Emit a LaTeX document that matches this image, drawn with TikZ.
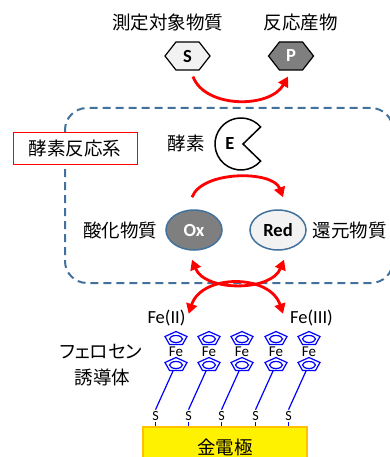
\documentclass[tikz,border=0pt]{standalone}
\usepackage{fontspec}
\setmainfont{Carlito}
\newfontfamily\jp[RawFeature=+palt]{Noto Sans CJK JP}
\usepackage{tikz}
\usetikzlibrary{arrows.meta}
\usetikzlibrary{shapes.geometric,shapes.symbols}

\definecolor{frameblue}{RGB}{65,113,156}
\definecolor{palegray}{RGB}{242,242,242}
\definecolor{midgray}{RGB}{127,127,127}
\definecolor{goldedge}{RGB}{255,192,0}
\definecolor{fcblue}{RGB}{0,0,255}

\tikzset{
  jtext/.style={font=\jp\fontsize{18.5}{20}\selectfont, inner sep=0pt},
  ltext/.style={font=\fontsize{18.5}{20}\selectfont, inner sep=0pt},
  hexa/.style={signal, signal to=east and west, signal pointer angle=104,
    draw=black, line width=1.2pt, minimum width=45pt, minimum height=28pt,
    inner sep=0pt, font=\bfseries\fontsize{18.5}{20}\selectfont},
  redox/.style={ellipse, draw=frameblue, line width=1.5pt, minimum width=56pt,
    minimum height=40pt, inner sep=0pt, font=\bfseries\fontsize{18.5}{20}\selectfont},
  rxn/.style={draw=red, line width=2.8pt, >={Triangle[length=10pt,width=11pt]}},
  ring/.style={draw=fcblue, line width=1.2pt},
  frame/.style={draw=frameblue, line width=2pt, dash pattern=on 8pt off 5pt, rounded corners=22pt}
}

\begin{document}
\begin{tikzpicture}[x=1pt,y=-1pt]
\useasboundingbox (0,0) rectangle (390,457);
%substrate and product
\node[jtext] (tsub) at (167.5,22) {測定対象物質};
\node[jtext] (tprod) at (300.5,22) {反応産物};
\node[hexa, fill=palegray] (hs) at (187.5,56) {S};
\node[hexa, fill=midgray, text=white] (hp) at (291,56) {P};
\draw[rxn,->] ([shift={(5.5,6)}]hs.south) .. controls +(12,32) and +(-18,32) .. ([shift={(-3,6)}]hp.south);
%enzyme system
\draw[frame] (65,108) rectangle (393,283);
\node[jtext, draw=red, fill=white, line width=1pt, minimum width=124pt, minimum height=31pt] (sys) at (75,148.5) {酵素反応系};
\node[jtext] (tenz) at (186,143) {酵素};
\coordinate (enz) at (241,144);
\draw[line width=1.5pt, fill=white] ([shift={(41:26)}]enz) arc[start angle=41, end angle=319, radius=26] -- ([shift={(2,0)}]enz) -- cycle;
\node[font=\bfseries\fontsize{18.5}{20}\selectfont, inner sep=0pt] (e) at (230,144) {E};
\node[redox, fill=midgray, text=white] (ox) at (194,230) {Ox};
\node[redox, fill=palegray] (rd) at (278,230) {Red};
\node[jtext] (tox) at (120,230) {酸化物質};
\node[jtext] (trd) at (349.5,230) {還元物質};
\draw[rxn,->] ([shift={(-2,-12)}]ox.north) .. controls +(10,-27) and +(-10,-27) .. ([shift={(5,-12)}]rd.north);
%electron transfer
\node[ltext] (fe2) at (166.5,318) {Fe(II)};
\node[ltext] (fe3) at (311.5,318) {Fe(III)};
\draw[rxn,<->] ([shift={(-2,9)}]ox.south) .. controls +(13,32) and +(-13,32) .. ([shift={(6,9)}]rd.south);
\draw[rxn,<->] ([shift={(3,4)}]fe2.north east) .. controls +(13,-40) and +(-13,-40) .. ([shift={(-7,4)}]fe3.north west);
%ferrocene monolayer
\node[jtext] (tfc) at (101,352) {フェロセン};
\node[jtext] (tder) at (102.5,377) {誘導体};
\node[jtext, fill=yellow, draw=goldedge, line width=2pt, minimum width=164pt, minimum height=40pt] (au) at (225,447) {金電極};
\foreach \i/\x in {1/176,2/209,3/242,4/276,5/309}{
  \foreach \y in {338,364}
    \draw[ring, shift={(\x,\y)}] (0,-6.5) -- (11,-1.5) -- (6.5,6.5) -- (-6.5,6.5) -- (-11,-1.5) -- cycle
      (0,1) ellipse [x radius=6.5, y radius=3.5];
  \node[font=\fontsize{15}{16}\selectfont, inner sep=0pt] (fe\i) at (\x,352) {Fe};
  \coordinate (cp\i) at (\x-3,371);
  \node[font=\fontsize{14}{15}\selectfont, inner sep=1.5pt] (s\i) at (\x-20.5,416) {S};
  \draw[ring] (cp\i) -- (s\i.north);
  \draw[ring] (s\i.south) -- (s\i.south |- au.north);
}
\end{tikzpicture}
\end{document}
